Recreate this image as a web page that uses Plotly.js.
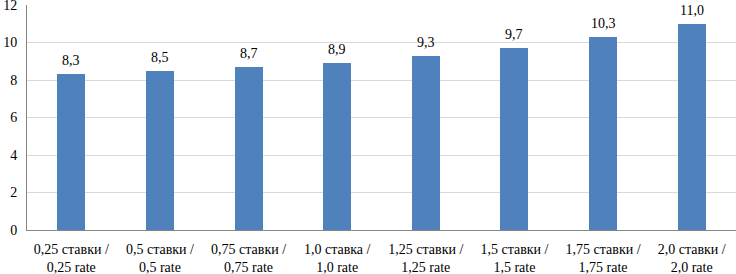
<!DOCTYPE html>
<html>
<head>
<meta charset="utf-8">
<script src="https://cdn.plot.ly/plotly-3.0.1.min.js"></script>
<style>html,body{margin:0;padding:0;background:#fff;}#chart{width:736px;height:274px;}</style>
</head>
<body>
<div id="chart"></div>
<script>
const categories = [
  "0,25 ставки /<br>0,25 rate",
  "0,5 ставки /<br>0,5 rate",
  "0,75 ставки /<br>0,75 rate",
  "1,0 ставка /<br>1,0 rate",
  "1,25 ставки /<br>1,25 rate",
  "1,5 ставки /<br>1,5 rate",
  "1,75 ставки /<br>1,75 rate",
  "2,0 ставки /<br>2,0 rate"
];
const values = [8.3, 8.5, 8.7, 8.9, 9.3, 9.7, 10.3, 11.0];
const valueLabels = ["8,3", "8,5", "8,7", "8,9", "9,3", "9,7", "10,3", "11,0"];
const yTicks = [0, 2, 4, 6, 8, 10, 12];

function serif() { return {family: 'Liberation Serif', size: 14, color: '#000000'}; }

const trace = {
  type: 'bar',
  x: categories,
  y: values,
  marker: {color: '#4F81BD'},
  width: 0.315,
  hoverinfo: 'none'
};

const annotations = categories.map((c, i) => ({
  x: c, y: values[i], xref: 'x', yref: 'y',
  text: valueLabels[i], showarrow: false,
  yanchor: 'bottom', yshift: 4,
  font: serif()
}));

const layout = {
  width: 736, height: 274,
  margin: {l: 27, r: 0, t: 5, b: 44, pad: 0},
  paper_bgcolor: '#ffffff', plot_bgcolor: '#ffffff',
  showlegend: false,
  bargap: 0,
  font: serif(),
  xaxis: {
    type: 'category',
    showline: true, linecolor: '#868686', linewidth: 1,
    ticks: '', showgrid: false,
    tickfont: serif(),
    ticklabelstandoff: 6
  },
  yaxis: {
    range: [0, 12],
    tickvals: yTicks,
    ticktext: yTicks.map(String),
    showline: true, linecolor: '#868686', linewidth: 1,
    showgrid: true, gridcolor: '#D9D9D9', gridwidth: 1,
    zeroline: false,
    ticks: '',
    tickfont: serif(),
    ticklabeloverflow: 'allow',
    ticklabelstandoff: 6
  },
  annotations: annotations
};

Plotly.newPlot('chart', [trace], layout, {staticPlot: true, displayModeBar: false});
</script>
</body>
</html>
